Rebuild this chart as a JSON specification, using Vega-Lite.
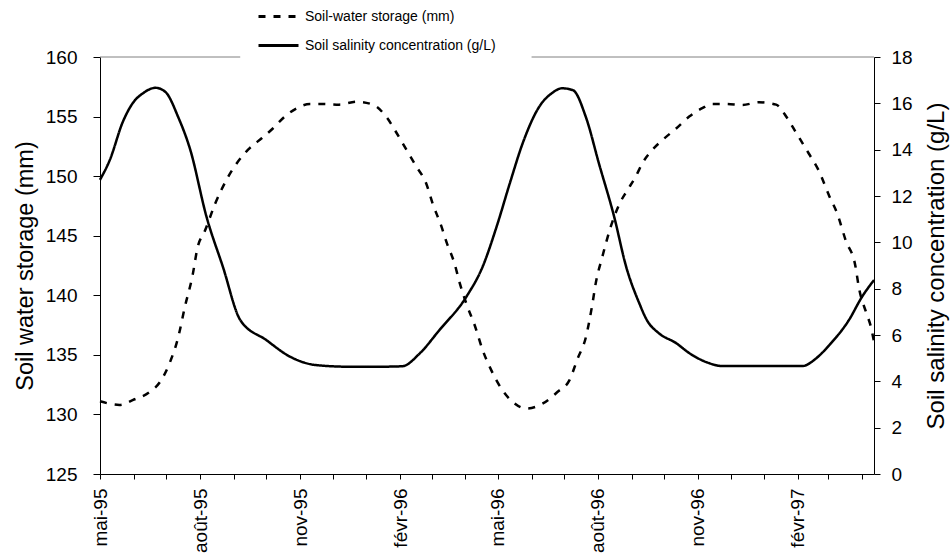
{
  "$schema": "https://vega.github.io/schema/vega-lite/v6.json",
  "width": 774,
  "height": 417,
  "autosize": {"type": "none"},
  "padding": {"left": 100, "top": 57, "right": 78, "bottom": 82},
  "background": "white",
  "config": {
    "font": "Liberation Sans",
    "view": {"stroke": null},
    "axis": {"grid": false, "domainColor": "black", "domainWidth": 1, "tickColor": "black", "tickWidth": 1, "labelColor": "black", "titleColor": "black", "labelFont": "Liberation Sans", "titleFont": "Liberation Sans", "titleFontWeight": "normal"},
    "axisX": {
      "title": null,
      "tickCount": {"interval": "month", "step": 1},
      "tickSize": 5,
      "labelAngle": 270,
      "labelAlign": "right",
      "labelBaseline": "middle",
      "labelPadding": 9,
      "labelFontSize": 19,
      "labelOverlap": false,
      "labelFlush": false,
      "labelBound": false
    },
    "legend": {"labelFont": "Liberation Sans"}
  },
  "datasets": {
    "border": [
      {"start": "1995-05-01", "end": "1995-09-07"},
      {"start": "1996-06-01", "end": "1997-04-12"}
    ],
    "series": [
      {"date": "1995-05-01", "series": "Soil-water storage (mm)", "value": 131.1},
      {"date": "1995-05-19", "series": "Soil-water storage (mm)", "value": 130.8},
      {"date": "1995-05-31", "series": "Soil-water storage (mm)", "value": 131.2},
      {"date": "1995-06-16", "series": "Soil-water storage (mm)", "value": 131.9},
      {"date": "1995-06-25", "series": "Soil-water storage (mm)", "value": 132.7},
      {"date": "1995-07-04", "series": "Soil-water storage (mm)", "value": 134.3},
      {"date": "1995-07-12", "series": "Soil-water storage (mm)", "value": 136.5},
      {"date": "1995-07-18", "series": "Soil-water storage (mm)", "value": 139.0},
      {"date": "1995-07-25", "series": "Soil-water storage (mm)", "value": 141.6},
      {"date": "1995-07-30", "series": "Soil-water storage (mm)", "value": 144.1},
      {"date": "1995-08-05", "series": "Soil-water storage (mm)", "value": 145.3},
      {"date": "1995-08-15", "series": "Soil-water storage (mm)", "value": 147.7},
      {"date": "1995-08-26", "series": "Soil-water storage (mm)", "value": 149.8},
      {"date": "1995-09-04", "series": "Soil-water storage (mm)", "value": 151.1},
      {"date": "1995-09-14", "series": "Soil-water storage (mm)", "value": 152.2},
      {"date": "1995-09-27", "series": "Soil-water storage (mm)", "value": 153.2},
      {"date": "1995-10-07", "series": "Soil-water storage (mm)", "value": 154.0},
      {"date": "1995-10-18", "series": "Soil-water storage (mm)", "value": 155.0},
      {"date": "1995-10-29", "series": "Soil-water storage (mm)", "value": 155.7},
      {"date": "1995-11-10", "series": "Soil-water storage (mm)", "value": 156.05},
      {"date": "1995-11-22", "series": "Soil-water storage (mm)", "value": 156.05},
      {"date": "1995-12-07", "series": "Soil-water storage (mm)", "value": 156.0},
      {"date": "1995-12-23", "series": "Soil-water storage (mm)", "value": 156.25},
      {"date": "1996-01-07", "series": "Soil-water storage (mm)", "value": 156.0},
      {"date": "1996-01-20", "series": "Soil-water storage (mm)", "value": 154.9},
      {"date": "1996-01-29", "series": "Soil-water storage (mm)", "value": 153.6},
      {"date": "1996-02-07", "series": "Soil-water storage (mm)", "value": 152.2},
      {"date": "1996-02-16", "series": "Soil-water storage (mm)", "value": 150.8},
      {"date": "1996-02-25", "series": "Soil-water storage (mm)", "value": 149.4},
      {"date": "1996-03-02", "series": "Soil-water storage (mm)", "value": 147.7},
      {"date": "1996-03-10", "series": "Soil-water storage (mm)", "value": 145.8},
      {"date": "1996-03-15", "series": "Soil-water storage (mm)", "value": 144.4},
      {"date": "1996-03-22", "series": "Soil-water storage (mm)", "value": 142.7},
      {"date": "1996-03-27", "series": "Soil-water storage (mm)", "value": 141.0},
      {"date": "1996-04-02", "series": "Soil-water storage (mm)", "value": 139.3},
      {"date": "1996-04-10", "series": "Soil-water storage (mm)", "value": 137.4},
      {"date": "1996-04-17", "series": "Soil-water storage (mm)", "value": 135.4},
      {"date": "1996-04-25", "series": "Soil-water storage (mm)", "value": 133.7},
      {"date": "1996-05-04", "series": "Soil-water storage (mm)", "value": 132.2},
      {"date": "1996-05-14", "series": "Soil-water storage (mm)", "value": 131.1},
      {"date": "1996-05-27", "series": "Soil-water storage (mm)", "value": 130.5},
      {"date": "1996-06-11", "series": "Soil-water storage (mm)", "value": 130.9},
      {"date": "1996-06-25", "series": "Soil-water storage (mm)", "value": 131.9},
      {"date": "1996-07-06", "series": "Soil-water storage (mm)", "value": 132.9},
      {"date": "1996-07-13", "series": "Soil-water storage (mm)", "value": 134.6},
      {"date": "1996-07-21", "series": "Soil-water storage (mm)", "value": 136.5},
      {"date": "1996-07-27", "series": "Soil-water storage (mm)", "value": 139.3},
      {"date": "1996-07-30", "series": "Soil-water storage (mm)", "value": 141.0},
      {"date": "1996-08-05", "series": "Soil-water storage (mm)", "value": 143.2},
      {"date": "1996-08-13", "series": "Soil-water storage (mm)", "value": 145.8},
      {"date": "1996-08-21", "series": "Soil-water storage (mm)", "value": 147.7},
      {"date": "1996-08-28", "series": "Soil-water storage (mm)", "value": 148.8},
      {"date": "1996-09-05", "series": "Soil-water storage (mm)", "value": 150.0},
      {"date": "1996-09-11", "series": "Soil-water storage (mm)", "value": 151.1},
      {"date": "1996-09-20", "series": "Soil-water storage (mm)", "value": 152.2},
      {"date": "1996-09-29", "series": "Soil-water storage (mm)", "value": 153.0},
      {"date": "1996-10-12", "series": "Soil-water storage (mm)", "value": 154.0},
      {"date": "1996-10-24", "series": "Soil-water storage (mm)", "value": 155.0},
      {"date": "1996-11-05", "series": "Soil-water storage (mm)", "value": 155.7},
      {"date": "1996-11-14", "series": "Soil-water storage (mm)", "value": 156.05},
      {"date": "1996-11-27", "series": "Soil-water storage (mm)", "value": 156.05},
      {"date": "1996-12-12", "series": "Soil-water storage (mm)", "value": 155.97},
      {"date": "1996-12-27", "series": "Soil-water storage (mm)", "value": 156.2},
      {"date": "1997-01-12", "series": "Soil-water storage (mm)", "value": 156.0},
      {"date": "1997-01-22", "series": "Soil-water storage (mm)", "value": 154.9},
      {"date": "1997-01-30", "series": "Soil-water storage (mm)", "value": 153.7},
      {"date": "1997-02-11", "series": "Soil-water storage (mm)", "value": 151.9},
      {"date": "1997-02-20", "series": "Soil-water storage (mm)", "value": 150.5},
      {"date": "1997-03-02", "series": "Soil-water storage (mm)", "value": 148.3},
      {"date": "1997-03-09", "series": "Soil-water storage (mm)", "value": 146.9},
      {"date": "1997-03-17", "series": "Soil-water storage (mm)", "value": 144.6},
      {"date": "1997-03-26", "series": "Soil-water storage (mm)", "value": 142.4},
      {"date": "1997-03-29", "series": "Soil-water storage (mm)", "value": 140.7},
      {"date": "1997-04-05", "series": "Soil-water storage (mm)", "value": 138.5},
      {"date": "1997-04-09", "series": "Soil-water storage (mm)", "value": 137.4},
      {"date": "1997-04-12", "series": "Soil-water storage (mm)", "value": 136.1},

      {"date": "1995-05-01", "series": "Soil salinity concentration (g/L)", "value": 12.7},
      {"date": "1995-05-10", "series": "Soil salinity concentration (g/L)", "value": 13.55},
      {"date": "1995-05-22", "series": "Soil salinity concentration (g/L)", "value": 15.2},
      {"date": "1995-05-31", "series": "Soil salinity concentration (g/L)", "value": 16.0},
      {"date": "1995-06-10", "series": "Soil salinity concentration (g/L)", "value": 16.45},
      {"date": "1995-06-21", "series": "Soil salinity concentration (g/L)", "value": 16.67},
      {"date": "1995-06-30", "series": "Soil salinity concentration (g/L)", "value": 16.5},
      {"date": "1995-07-12", "series": "Soil salinity concentration (g/L)", "value": 15.4},
      {"date": "1995-07-23", "series": "Soil salinity concentration (g/L)", "value": 14.0},
      {"date": "1995-08-07", "series": "Soil salinity concentration (g/L)", "value": 11.1},
      {"date": "1995-08-22", "series": "Soil salinity concentration (g/L)", "value": 8.95},
      {"date": "1995-09-07", "series": "Soil salinity concentration (g/L)", "value": 6.65},
      {"date": "1995-10-01", "series": "Soil salinity concentration (g/L)", "value": 5.78},
      {"date": "1995-10-23", "series": "Soil salinity concentration (g/L)", "value": 5.06},
      {"date": "1995-11-16", "series": "Soil salinity concentration (g/L)", "value": 4.7},
      {"date": "1995-12-17", "series": "Soil salinity concentration (g/L)", "value": 4.63},
      {"date": "1996-01-10", "series": "Soil salinity concentration (g/L)", "value": 4.63},
      {"date": "1996-02-03", "series": "Soil salinity concentration (g/L)", "value": 4.65},
      {"date": "1996-02-19", "series": "Soil salinity concentration (g/L)", "value": 5.2},
      {"date": "1996-03-08", "series": "Soil salinity concentration (g/L)", "value": 6.2},
      {"date": "1996-04-02", "series": "Soil salinity concentration (g/L)", "value": 7.65},
      {"date": "1996-04-17", "series": "Soil salinity concentration (g/L)", "value": 8.95},
      {"date": "1996-04-30", "series": "Soil salinity concentration (g/L)", "value": 10.7},
      {"date": "1996-05-12", "series": "Soil salinity concentration (g/L)", "value": 12.55},
      {"date": "1996-05-24", "series": "Soil salinity concentration (g/L)", "value": 14.3},
      {"date": "1996-06-08", "series": "Soil salinity concentration (g/L)", "value": 15.85},
      {"date": "1996-06-20", "series": "Soil salinity concentration (g/L)", "value": 16.45},
      {"date": "1996-06-29", "series": "Soil salinity concentration (g/L)", "value": 16.65},
      {"date": "1996-07-09", "series": "Soil salinity concentration (g/L)", "value": 16.57},
      {"date": "1996-07-21", "series": "Soil salinity concentration (g/L)", "value": 15.4},
      {"date": "1996-08-02", "series": "Soil salinity concentration (g/L)", "value": 13.4},
      {"date": "1996-08-16", "series": "Soil salinity concentration (g/L)", "value": 11.1},
      {"date": "1996-08-27", "series": "Soil salinity concentration (g/L)", "value": 8.95},
      {"date": "1996-09-08", "series": "Soil salinity concentration (g/L)", "value": 7.38},
      {"date": "1996-09-15", "series": "Soil salinity concentration (g/L)", "value": 6.65},
      {"date": "1996-09-26", "series": "Soil salinity concentration (g/L)", "value": 6.08},
      {"date": "1996-10-12", "series": "Soil salinity concentration (g/L)", "value": 5.65},
      {"date": "1996-10-24", "series": "Soil salinity concentration (g/L)", "value": 5.22},
      {"date": "1996-11-11", "series": "Soil salinity concentration (g/L)", "value": 4.79},
      {"date": "1996-11-23", "series": "Soil salinity concentration (g/L)", "value": 4.66},
      {"date": "1996-12-30", "series": "Soil salinity concentration (g/L)", "value": 4.66},
      {"date": "1997-02-05", "series": "Soil salinity concentration (g/L)", "value": 4.66},
      {"date": "1997-02-18", "series": "Soil salinity concentration (g/L)", "value": 5.0},
      {"date": "1997-03-02", "series": "Soil salinity concentration (g/L)", "value": 5.57},
      {"date": "1997-03-20", "series": "Soil salinity concentration (g/L)", "value": 6.65},
      {"date": "1997-04-01", "series": "Soil salinity concentration (g/L)", "value": 7.65},
      {"date": "1997-04-12", "series": "Soil salinity concentration (g/L)", "value": 8.37}
    ]
  },
  "layer": [
    {
      "data": {"name": "border"},
      "mark": {"type": "rule", "color": "#808080", "strokeWidth": 1},
      "encoding": {
        "x": {"field": "start", "type": "temporal", "scale": {"type": "utc", "nice": false, "domain": [{"year": 1995, "month": 5, "date": 1, "utc": true}, {"year": 1997, "month": 4, "date": 12, "utc": true}]},
          "axis": {"title": null, "labelExpr": "(utcmonth(datum.value)==4 ? 'mai-' : utcmonth(datum.value)==7 ? 'août-' : utcmonth(datum.value)==10 ? 'nov-' : utcmonth(datum.value)==1 ? 'févr-' : '') + ((utcmonth(datum.value)%3==1) ? substring(toString(utcyear(datum.value)),2) : '')"}},
        "x2": {"field": "end"},
        "y": {"datum": 160, "type": "quantitative", "scale": {"domain": [125, 160], "nice": false, "zero": false}, "axis": null}
      }
    },
    {
      "data": {"name": "series"},
      "transform": [{"filter": "datum.series === 'Soil-water storage (mm)'"}],
      "mark": {"type": "line", "color": "black", "strokeWidth": 2.5, "interpolate": "monotone"},
      "encoding": {
        "x": {
          "field": "date", "type": "temporal",
          "scale": {"type": "utc", "nice": false, "domain": [{"year": 1995, "month": 5, "date": 1, "utc": true}, {"year": 1997, "month": 4, "date": 12, "utc": true}]},
          "axis": {"title": null, "labelExpr": "(utcmonth(datum.value)==4 ? 'mai-' : utcmonth(datum.value)==7 ? 'août-' : utcmonth(datum.value)==10 ? 'nov-' : utcmonth(datum.value)==1 ? 'févr-' : '') + ((utcmonth(datum.value)%3==1) ? substring(toString(utcyear(datum.value)),2) : '')"}
        },
        "y": {
          "field": "value", "type": "quantitative",
          "scale": {"domain": [125, 160], "nice": false, "zero": false},
          "axis": {
            "orient": "left",
            "title": "Soil water storage (mm)",
            "values": [125, 130, 135, 140, 145, 150, 155, 160],
            "tickSize": 7,
            "labelPadding": 16,
            "labelFontSize": 19,
            "titleFontSize": 23.5,
            "titlePadding": 8
          }
        },
        "strokeDash": {
          "field": "series", "type": "nominal",
          "scale": {"domain": ["Soil-water storage (mm)", "Soil salinity concentration (g/L)"], "range": [[7, 8], [1, 0]]},
          "legend": {
            "title": null,
            "orient": "none",
            "legendX": 157,
            "legendY": -62,
            "padding": 0,
            "symbolType": "stroke",
            "symbolSize": 1600,
            "symbolStrokeWidth": 3,
            "symbolStrokeColor": "black",
            "labelFontSize": 14,
            "labelColor": "black",
            "labelOffset": 5,
            "labelLimit": 400,
            "rowPadding": -1
          }
        }
      }
    },
    {
      "data": {"name": "series"},
      "transform": [{"filter": "datum.series === 'Soil salinity concentration (g/L)'"}],
      "mark": {"type": "line", "color": "black", "strokeWidth": 2.5, "interpolate": "monotone"},
      "encoding": {
        "x": {
          "field": "date", "type": "temporal",
          "scale": {"type": "utc", "nice": false, "domain": [{"year": 1995, "month": 5, "date": 1, "utc": true}, {"year": 1997, "month": 4, "date": 12, "utc": true}]},
          "axis": {"title": null, "labelExpr": "(utcmonth(datum.value)==4 ? 'mai-' : utcmonth(datum.value)==7 ? 'août-' : utcmonth(datum.value)==10 ? 'nov-' : utcmonth(datum.value)==1 ? 'févr-' : '') + ((utcmonth(datum.value)%3==1) ? substring(toString(utcyear(datum.value)),2) : '')"}
        },
        "y": {
          "field": "value", "type": "quantitative",
          "scale": {"domain": [0, 18], "nice": false},
          "axis": {
            "orient": "right",
            "title": "Soil salinity concentration (g/L)",
            "values": [0, 2, 4, 6, 8, 10, 12, 14, 16, 18],
            "tickSize": 6,
            "labelPadding": 11,
            "labelFontSize": 19,
            "titleFontSize": 24,
            "titleAngle": 270,
            "titleBaseline": "top",
            "titlePadding": 12
          }
        },
        "strokeDash": {"field": "series", "type": "nominal"}
      }
    }
  ],
  "resolve": {"scale": {"y": "independent"}}
}
